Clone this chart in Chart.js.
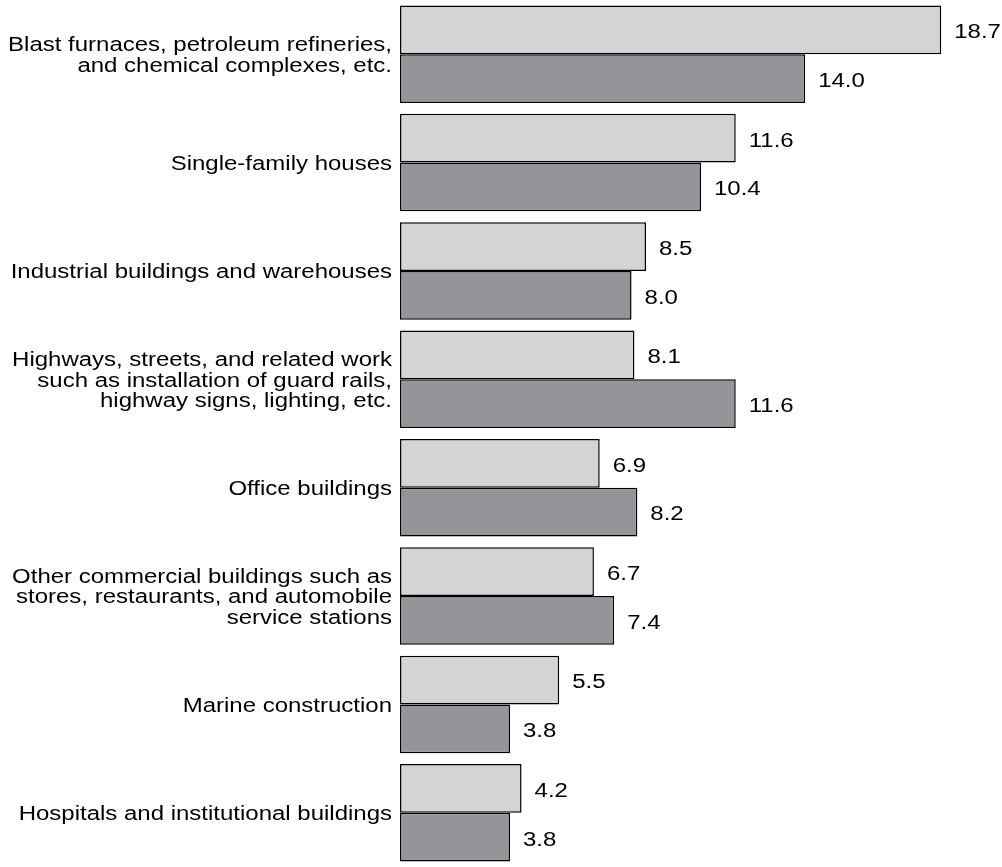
<!DOCTYPE html>
<html>
<head>
<meta charset="utf-8">
<script src="https://cdn.jsdelivr.net/npm/chart.js@4"></script>
<style>
  html, body { margin: 0; padding: 0; background: #fff; }
  #wrap { width: 1002px; height: 867px; position: relative; }
</style>
</head>
<body>
<div id="wrap"><canvas id="grafica"></canvas></div>
<script>
var categories = [
  ["Blast furnaces, petroleum refineries,", "and chemical complexes, etc."],
  ["Single-family houses"],
  ["Industrial buildings and warehouses"],
  ["Highways, streets, and related work", "such as installation of guard rails,", "highway signs, lighting, etc."],
  ["Office buildings"],
  ["Other commercial buildings such as", "stores, restaurants, and automobile", "service stations"],
  ["Marine construction"],
  ["Hospitals and institutional buildings"]
];
var seriesLight = [18.7, 11.6, 8.5, 8.1, 6.9, 6.7, 5.5, 4.2];
var seriesDark = [14.0, 10.4, 8.0, 11.6, 8.2, 7.4, 3.8, 3.8];

var fontFamily = "'Liberation Sans', Arial, sans-serif";
var fontSize = 19.5;
var stretchX = 1.23;   // the original lettering is wider than Arial
var lineGap = 20.5;

function drawStretched(ctx, text, x, y) {
  ctx.save();
  ctx.translate(x, y);
  ctx.scale(stretchX, 1);
  ctx.fillText(text, 0, 0);
  ctx.restore();
}

// category names on the left and values at the end of each bar
var textLayer = {
  id: "textLayer",
  afterDatasetsDraw: function(chart) {
    var ctx = chart.ctx;
    var yScale = chart.scales.y;
    ctx.save();
    ctx.font = fontSize + "px " + fontFamily;
    ctx.fillStyle = "#000";
    ctx.textBaseline = "middle";

    ctx.textAlign = "right";
    chart.data.labels.forEach(function(lines, i) {
      var cy = yScale.getPixelForTick(i) + 2;
      var top = cy - (lines.length - 1) * lineGap / 2;
      lines.forEach(function(line, k) {
        drawStretched(ctx, line, yScale.right - 8, top + k * lineGap);
      });
    });

    ctx.textAlign = "left";
    chart.data.datasets.forEach(function(ds, i) {
      chart.getDatasetMeta(i).data.forEach(function(bar, j) {
        drawStretched(ctx, ds.data[j].toFixed(1), bar.x + 13, bar.y + 3);
      });
    });
    ctx.restore();
  }
};

new Chart(document.getElementById("grafica"), {
  type: "bar",
  data: {
    labels: categories,
    datasets: [{
      label: "Light",
      data: seriesLight,
      backgroundColor: "#d3d4d6",
      borderColor: "#000",
      borderWidth: 1.5,
      borderSkipped: false
    }, {
      label: "Dark",
      data: seriesDark,
      backgroundColor: "#949598",
      borderColor: "#000",
      borderWidth: 1.5,
      borderSkipped: false
    }]
  },
  options: {
    indexAxis: "y",
    responsive: true,
    maintainAspectRatio: false,
    animation: false,
    layout: { padding: 0 },
    datasets: { bar: { categoryPercentage: 0.9, barPercentage: 1.0 } },
    plugins: { legend: { display: false }, tooltip: { enabled: false } },
    scales: {
      x: {
        min: 0,
        max: 20.8,
        display: false
      },
      y: {
        grid: { display: false, drawTicks: false },
        border: { display: false },
        ticks: { display: false },
        afterFit: function(scale) {
          scale.width = 400;
          scale.paddingTop = 0;
          scale.paddingBottom = 0;
        }
      }
    }
  },
  plugins: [textLayer]
});
</script>
</body>
</html>
